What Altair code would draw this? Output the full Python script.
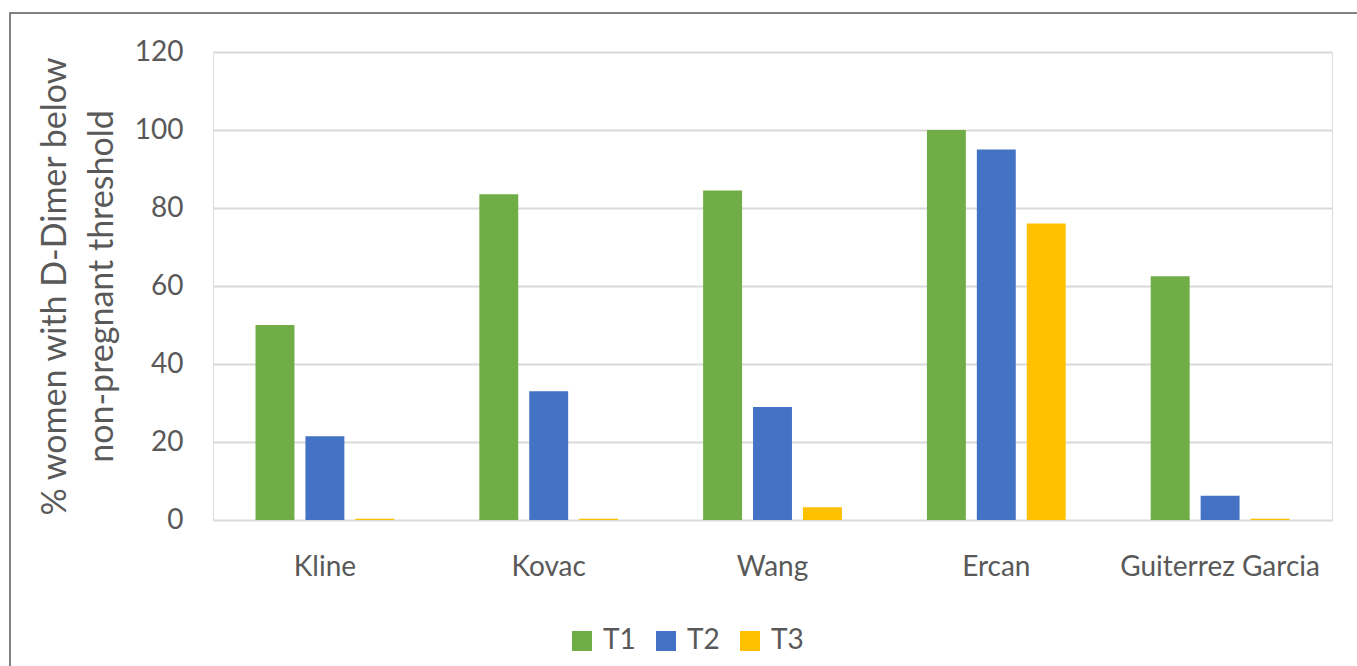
import altair as alt
import pandas as pd

studies = ["Kline", "Kovac", "Wang", "Ercan", "Guiterrez Garcia"]
trimesters = ["T1", "T2", "T3"]
t1 = [50, 83.5, 84.5, 100, 62.5]
t2 = [21.5, 33, 29, 95, 6.2]
t3 = [0.3, 0.3, 3.3, 76, 0.3]
colors = ["#70AD47", "#4472C4", "#FFC000"]
y_ticks = [0, 20, 40, 60, 80, 100, 120]

rows = []
for i, s in enumerate(studies):
    for tri, vals in zip(trimesters, [t1, t2, t3]):
        rows.append({"study": s, "tri": tri, "value": vals[i]})
df = pd.DataFrame(rows)

TXT = "#595959"
FONT = "Lato"

bars = alt.Chart(df).mark_bar().encode(
    x=alt.X(
        "study:N",
        sort=studies,
        scale=alt.Scale(paddingInner=0.38, paddingOuter=0.19),
        axis=alt.Axis(
            title=None, labelAngle=0, labelFontSize=28, labelColor=TXT,
            labelFont=FONT, labelPadding=33, labelLimit=0, ticks=False,
            domain=False,
        ),
    ),
    xOffset=alt.XOffset(
        "tri:N", sort=trimesters,
        scale=alt.Scale(paddingInner=0.22, paddingOuter=0),
    ),
    y=alt.Y(
        "value:Q",
        scale=alt.Scale(domain=[0, 120]),
        axis=alt.Axis(
            values=y_ticks,
            title=["% women with D-Dimer below", "non-pregnant threshold"],
            titleFontSize=34, titleFontWeight="normal", titleColor=TXT,
            titleFont=FONT, titleLineHeight=47, titlePadding=15,
            labelFontSize=28, labelColor=TXT, labelFont=FONT, labelPadding=30,
            ticks=False, domain=False, gridColor="#D9D9D9", gridWidth=2,
        ),
    ),
    color=alt.Color(
        "tri:N",
        scale=alt.Scale(domain=trimesters, range=colors),
        legend=alt.Legend(
            title=None, orient="none", legendX=355, legendY=575,
            direction="horizontal", symbolType="square", symbolSize=400,
            symbolStrokeWidth=0, labelFontSize=28, labelColor=TXT,
            labelFont=FONT, columnPadding=16, labelOffset=7,
        ),
    ),
)

border = alt.Chart(pd.DataFrame({"a": [0]})).mark_rect(
    fillOpacity=0, stroke="#595959", strokeWidth=1.5
).encode(
    x=alt.value(-203), x2=alt.value(1300), y=alt.value(-39), y2=alt.value(700)
)

chart = alt.layer(border, bars).properties(
    width=1119,
    height=468,
    padding={"left": 213, "top": 52, "right": 25, "bottom": 146},
    autosize=alt.AutoSizeParams(type="none"),
).configure_view(stroke=None).configure(font=FONT, background="white")

chart.save("out.html", embed_options={"renderer": "svg", "actions": False})
